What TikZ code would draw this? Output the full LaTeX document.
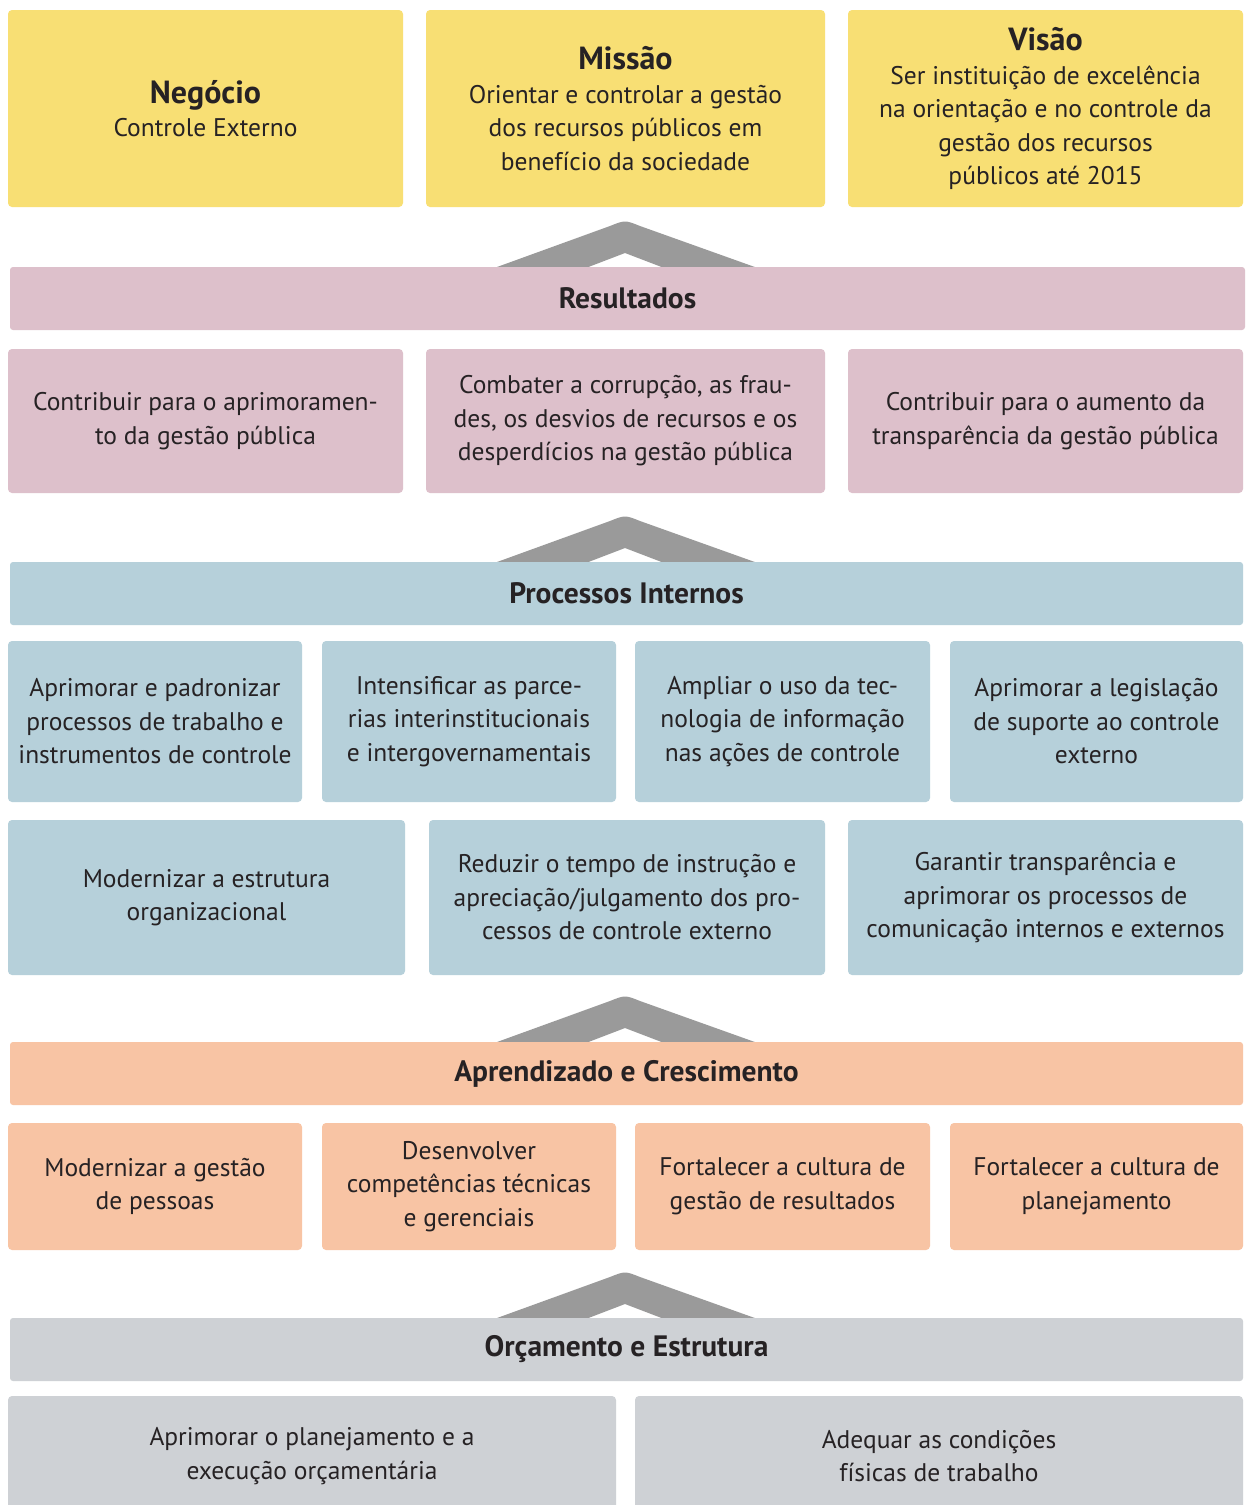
\documentclass[tikz,border=0pt]{standalone}
\usepackage{fontspec}
\setmainfont{PT Sans}
\usetikzlibrary{calc}
\definecolor{cyel}{HTML}{F8DF74}
\definecolor{cpink}{HTML}{DDC0CB}
\definecolor{cblue}{HTML}{B6D0DA}
\definecolor{corange}{HTML}{F8C4A4}
\definecolor{cgray}{HTML}{CED1D5}
\definecolor{cchev}{HTML}{9A9A9A}
\definecolor{ctext}{HTML}{262224}
\tikzset{
  box/.style={rounded corners=4pt, inner sep=0pt, align=center, text=ctext,
    font=\fontsize{25.5}{33.5}\selectfont},
  bar/.style={rounded corners=3pt, inner sep=0pt, align=center, text=ctext,
    font=\fontsize{29.5}{33}\selectfont\bfseries},
  chev/.style={fill=cchev, draw=none}
}
\newcommand{\ttl}[1]{{\bfseries\fontsize{32}{38}\selectfont #1}}
\newcommand{\bx}[6]{% name, x1, y1, x2, y2, color ; text follows via node content
  \node[box, fill=#6, minimum width=#4-#2, minimum height=#5-#3] (#1) at ({(#2+#4)/2},{(#3+#5)/2})}
\newcommand{\chevron}[1]{% base y
  \fill[chev] (486,#1+4) -- (610,#1-41) .. controls (625,#1-47) .. (640,#1-41) -- (766,#1+4) -- (672,#1+4) -- (625,#1-14) -- (578,#1+4) -- cycle;}
\begin{document}
\begin{tikzpicture}[x=1pt,y=-1pt]
\useasboundingbox (0,0) rectangle (1247,1505);
\fill[white] (0,0) rectangle (1247,1505);

% top row
\bx{neg}{8}{10}{403}{207}{cyel} {\ttl{Negócio}\\Controle Externo};
\bx{mis}{426}{10}{825}{207}{cyel} {\ttl{Missão}\\Orientar e controlar a gestão\\dos recursos públicos em\\benefício da sociedade};
\bx{vis}{848}{10}{1243}{207}{cyel} {\ttl{Visão}\\Ser instituição de excelência\\na orientação e no controle da\\gestão dos recursos\\públicos até 2015};

% chevron 1 and Resultados
\chevron{267}
\node[bar, fill=cpink, minimum width=1235, minimum height=63] (res) at (627.5,298.5) {Resultados};
\bx{r1}{8}{349}{403}{493}{cpink} {Contribuir para o aprimoramen-\\to da gestão pública};
\bx{r2}{426}{349}{825}{493}{cpink} {Combater a corrupção, as frau-\\des, os desvios de recursos e os\\desperdícios na gestão pública};
\bx{r3}{848}{349}{1243}{493}{cpink} {Contribuir para o aumento da\\transparência da gestão pública};

% chevron 2 and Processos Internos
\chevron{562}
\node[bar, fill=cblue, minimum width=1233, minimum height=63] (pro) at (626.5,593.5) {Processos Internos};
\bx{p1}{8}{641}{302}{802}{cblue} {Aprimorar e padronizar\\processos de trabalho e\\instrumentos de controle};
\bx{p2}{322}{641}{616}{802}{cblue} {Intensificar as parce-\\rias interinstitucionais\\e intergovernamentais};
\bx{p3}{635}{641}{930}{802}{cblue} {Ampliar o uso da tec-\\nologia de informação\\nas ações de controle};
\bx{p4}{950}{641}{1243}{802}{cblue} {Aprimorar a legislação\\de suporte ao controle\\externo};
\bx{p5}{8}{820}{405}{975}{cblue} {Modernizar a estrutura\\organizacional};
\bx{p6}{429}{820}{825}{975}{cblue} {Reduzir o tempo de instrução e\\apreciação/julgamento dos pro-\\cessos de controle externo};
\bx{p7}{848}{820}{1243}{975}{cblue} {Garantir transparência e\\aprimorar os processos de\\comunicação internos e externos};

% chevron 3 and Aprendizado
\chevron{1042}
\node[bar, fill=corange, minimum width=1233, minimum height=63] (apr) at (626.5,1073.5) {Aprendizado e Crescimento};
\bx{a1}{8}{1123}{302}{1250}{corange} {Modernizar a gestão\\de pessoas};
\bx{a2}{322}{1123}{616}{1250}{corange} {Desenvolver\\competências técnicas\\e gerenciais};
\bx{a3}{635}{1123}{930}{1250}{corange} {Fortalecer a cultura de\\gestão de resultados};
\bx{a4}{950}{1123}{1243}{1250}{corange} {Fortalecer a cultura de\\planejamento};

% chevron 4 and Orcamento
\chevron{1318}
\node[bar, fill=cgray, minimum width=1233, minimum height=63] (orc) at (626.5,1349.5) {Orçamento e Estrutura};
\bx{o1}{8}{1396}{616}{1516}{cgray} {Aprimorar o planejamento e a\\execução orçamentária};
\bx{o2}{635}{1396}{1243}{1516}{cgray} {Adequar as condições\\físicas de trabalho};
\end{tikzpicture}
\end{document}
